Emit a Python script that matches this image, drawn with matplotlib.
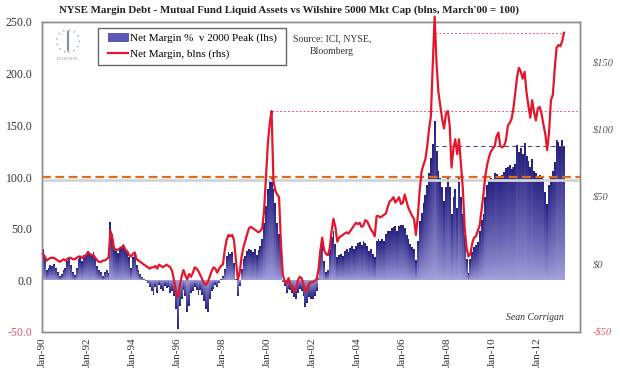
"""NYSE margin debt less mutual fund liquid assets vs Wilshire 5000 cap."""

import matplotlib

matplotlib.use("Agg")
import matplotlib.dates as mdates
import matplotlib.pyplot as plt
import numpy as np
import pandas as pd
from matplotlib.lines import Line2D
from matplotlib.patches import Circle, Patch, Rectangle
from matplotlib.ticker import FuncFormatter

plt.rcParams["font.family"] = ["Liberation Serif", "DejaVu Serif"]

START = "1990-01-01"

# Net margin as % of the March 2000 peak (lhs), one row per year
net_margin_pct = [
    30, 22, 10, 12, 15, 14, 16, 12, 8, 4, 6, 10,
    12, 18, 22, 15, 8, 5, 12, 20, 22, 18, 24, 25,
    28, 26, 25, 27, 22, 14, 10, 8, 4, 8, 10, 7,
    56, 45, 32, 28, 26, 30, 33, 35, 30, 27, 22, 12,
    22, 25, 15, 10, 6, 3, 1, -1, -3, -6, -10, -14,
    -6, -12, -4, -8, -10, -5, -7, -6, -12, -10, -15, -28,
    -47, -25, -18, -9, -15, -31, -25, -12, -10, -6, -9, -14,
    -9, -14, -20, -28, -31, -18, -10, -8, -4, -6, -3, 1,
    4, 11, 23, 27, 25, 27, 17, 1, -15, -5, 11, 20,
    23, 28, 30, 29, 27, 30, 24, 29, 33, 40, 55, 72,
    88, 96, 100, 88, 75, 55, 45, 35, -2, -5, -12, -8,
    -9, -12, -16, -18, -12, -8, -10, -15, -26, -22, -16, -18,
    -18, -15, -10, 2, 25, 38, 18, 8, 10, 30, 42, 48,
    35, 22, 24, 25, 23, 28, 30, 27, 31, 33, 30, 33,
    36, 37, 34, 38, 36, 33, 28, 30, 25, 22, 38, 40,
    38, 40, 38, 45, 48, 48, 50, 51, 52, 48, 52, 53,
    53, 50, 44, 40, 35, 32, 30, 19, 38, 57, 65, 75,
    82, 92, 104, 118, 132, 154, 125, 106, 99, 90, 77, 90,
    100, 90, 64, 80, 88, 70, 100, 80, 64, 44, 20, 7,
    20, 27, 32, 34, 37, 48, 58, 64, 80, 92, 96, 99,
    98, 104, 103, 101, 100, 102, 105, 109, 110, 111, 108, 110,
    112, 131, 124, 128, 122, 133, 120, 115, 110, 117, 106, 104,
    101, 102, 100, 98, 85, 74, 92, 100, 106, 114, 136, 134,
    130, 136, 130,
]

# Net margin, $ billions (rhs)
net_margin_bln = [
    8, 6, 3, 4, 5, 5, 5, 4, 3, 2, 3, 4,
    3, 4, 5, 5, 4, 4, 5, 6, 6, 5, 6, 7,
    9, 8, 7, 7, 5, 3, 2, 2, 3, 3, 4, 5,
    25, 20, 12, 11, 11, 12, 13, 14, 11, 10, 7, 6,
    8, 9, 4, 3, 2, 1, 0, -1, -2, -3, -2, -2,
    -1, -3, 0, -1, -2, -1, 0, -1, -2, -5, -12, -20,
    -24, -16, -9, -4, -8, -11, -7, -9, -6, -2, -3, -5,
    -8, -11, -14, -15, -13, -9, -5, -2, -3, -6, -3, -1,
    0, 11, 18, 22, 21, 22, 18, 3, -11, -6, 6, 13,
    18, 23, 27, 28, 27, 26, 25, 24, 25, 27, 40, 65,
    90, 105, 114, 62, 55, 52, 50, 15, -8, -12, -14, -10,
    -15, -16, -20, -18, -12, -9, -10, -14, -20, -18, -14, -13,
    -13, -12, -11, -4, 10, 20, 11, 8, 7, 12, 25, 34,
    28, 17, 20, 21, 22, 23, 24, 23, 25, 27, 29, 31,
    30, 31, 28, 29, 33, 32, 29, 26, 24, 21, 36, 36,
    35, 36, 37, 38, 43, 47, 48, 50, 46, 48, 50, 45,
    46, 52, 47, 42, 39, 36, 34, 22, 36, 55, 69, 74,
    78, 88, 100, 110, 148, 184, 150, 128, 118, 108, 101, 112,
    114, 103, 72, 86, 93, 82, 93, 74, 56, 27, 12, 6,
    8, 16, 20, 21, 25, 29, 40, 52, 66, 74, 80, 84,
    86, 88, 95, 98, 88, 87, 88, 92, 103, 105, 108, 116,
    128, 140, 146, 143, 138, 143, 128, 118, 109, 122, 113, 107,
    116, 117, 112, 104, 97, 85, 98, 122, 126, 145, 161, 163,
    162, 166, 172,
]

lhs_ticks = [-50, 0, 50, 100, 150, 200, 250]
rhs_ticks = [-50, 0, 50, 100, 150]
peak_index_level = 100

TITLE = "NYSE Margin Debt - Mutual Fund Liquid Assets vs Wilshire 5000 Mkt Cap (blns, March'00 = 100)"

DARK = np.array([0.15, 0.13, 0.50])
LIGHT = np.array([0.66, 0.64, 0.88])
RED = "#e3162b"
PINK = "#e05a6e"

pct = np.array(net_margin_pct, dtype=float)
bln = np.array(net_margin_bln, dtype=float)
dates = pd.date_range(START, periods=len(pct), freq="MS")
xd = mdates.date2num(dates)
x_lo = mdates.datestr2num("1990-01-01")
x_hi = mdates.datestr2num("2013-12-01")

fig = plt.figure(figsize=(6.2, 3.71), dpi=100)
ax = fig.add_axes([42 / 620, 39 / 371, 538 / 620, 310 / 371])
ax2 = ax.twinx()

# bars in a mid tone, then a per-bar vertical gradient laid over them
ax.bar(xd, pct, width=30.4, align="edge", color="#6560bd", linewidth=0, zorder=2)
ys = np.linspace(-50, 250, 901)
safe = np.where(pct == 0, 1, pct)
frac = ys[:, None] / safe[None, :]
inside = (frac >= 0) & (frac <= 1)
t = np.clip(frac, 0, 1) ** 0.8
rgba = np.zeros(frac.shape + (4,))
rgba[..., :3] = LIGHT * (1 - t[..., None]) + DARK * t[..., None]
rgba[..., 3] = inside
ax.imshow(rgba, extent=[xd[0], xd[-1] + 30.4, -50, 250], origin="lower",
          aspect="auto", interpolation="nearest", zorder=3)
ax.set_xlim(x_lo, x_hi)
ax.set_ylim(-50, 250)
ax2.set_ylim(-50, 180)

# reference levels
ax.axhline(peak_index_level - 3, color="#d4d4d4", lw=2.0, zorder=4)
ax.axhline(peak_index_level, color="#e06d1c", lw=1.6, ls=(0, (4, 2)), zorder=5)
i07 = int(np.argmax(bln))
ax.plot([xd[i07], xd[-1] + 15], [pct[-1], pct[-1]], color="#4d4b8c",
        lw=0.8, ls=(0, (4, 3)), zorder=5)

mid = xd + 15
ax2.plot(mid, bln, color=RED, lw=1.6, zorder=6, clip_on=False)
i00 = int(np.argmax(bln[:150]))
ax2.plot([mid[i00], x_hi], [bln[i00], bln[i00]], color=PINK,
         lw=0.7, ls=(0, (2, 2)), zorder=5)
ax2.plot([mid[i07], mid[-1]], [bln[-1], bln[-1]], color=PINK,
         lw=0.7, ls=(0, (2, 2)), zorder=5)

# axes cosmetics
for a in (ax, ax2):
    for s in a.spines.values():
        s.set_color("#8c8c8c")
        s.set_linewidth(1.0)

ax.set_yticks(lhs_ticks)
ax.yaxis.set_major_formatter(FuncFormatter(lambda v, p: f"{v:.1f}"))
ax.tick_params(axis="y", length=0, pad=7, labelsize=8.5, labelcolor="#333333")
ax.get_yticklabels()[0].set_color(PINK)

ax2.set_yticks(rhs_ticks)
ax2.yaxis.set_major_formatter(
    FuncFormatter(lambda v, p: f"${v:.0f}" if v >= 0 else f"-${-v:.0f}")
)
ax2.tick_params(axis="y", length=0, pad=9, labelsize=7.5, labelcolor="#555555")
for lab in ax2.get_yticklabels():
    lab.set_fontstyle("italic")
ax2.get_yticklabels()[0].set_color(PINK)

ax.xaxis.set_major_locator(mdates.YearLocator(2, month=1, day=1))
ax.xaxis.set_major_formatter(mdates.DateFormatter("%b-%y"))
ax.tick_params(axis="x", length=0, pad=4, labelsize=8, labelcolor="#333333",
               labelrotation=90)

fig.text(289 / 620, 1 - 10 / 371, TITLE, ha="center", va="center",
         fontsize=7.8, fontweight="bold", color="#222222")

# legend: drawn frameless on the top axes, inside a hand-placed box
ax2.add_patch(Rectangle((98 / 620, 1 - 65 / 371), 188 / 620, 37 / 371,
                        transform=fig.transFigure, fc="white", ec="#666666",
                        lw=1.0, zorder=9, clip_on=False))
handles = [
    Patch(facecolor="#5d58b8", edgecolor="#3b378f", lw=0.5),
    Line2D([0], [0], color=RED, lw=1.6),
]
leg = ax2.legend(handles, ["Net Margin %  v 2000 Peak (lhs)", "Net Margin, blns (rhs)"],
                 loc="upper left", bbox_to_anchor=(106 / 620, 1 - 31 / 371),
                 bbox_transform=fig.transFigure, fontsize=8, frameon=False,
                 handlelength=1.8, handletextpad=0.15, borderpad=0.2,
                 labelspacing=0.55, borderaxespad=0)
leg.set_zorder(10)

fig.text(332 / 620, 1 - 45 / 371, "Source: ICI, NYSE,\nBloomberg", ha="center",
         va="center", fontsize=7, color="#333333", linespacing=1.5)
fig.text(535 / 620, 1 - 318 / 371, "Sean Corrigan", ha="center", va="center",
         fontsize=7, fontstyle="italic", color="#333333")

# little logo, top left of the plot
lax = fig.add_axes([52 / 620, 1 - 64 / 371, 32 / 620, 38 / 371])
lax.set_xlim(-1.2, 1.2)
lax.set_ylim(-1.6, 1.3)
lax.axis("off")
lax.add_patch(Circle((0, 0.15), 0.85, fill=False, ec="#9aa0b8", lw=1.0, ls=(0, (1, 3))))
lax.plot([0, 0], [-0.5, 0.85], color="#8a8fa8", lw=1.6)
lax.text(0, -1.2, "DIAPASON", ha="center", va="center", fontsize=3.2, color="#8a90b0")

fig.savefig("out.png", dpi=100)
